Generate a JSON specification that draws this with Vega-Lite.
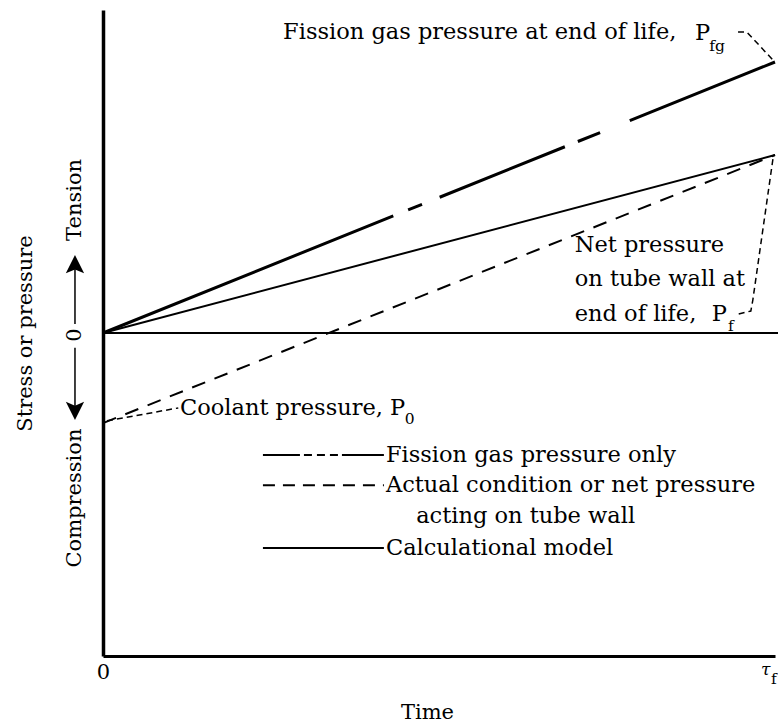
{
  "$schema": "https://vega.github.io/schema/vega-lite/v6.json",
  "width": 672,
  "height": 646,
  "autosize": {"type": "none"},
  "padding": {"left": 103, "top": 10, "right": 3, "bottom": 66},
  "background": "white",
  "config": {
    "font": "DejaVu Serif",
    "view": {"stroke": null},
    "text": {"font": "DejaVu Serif", "fontSize": 21, "color": "black"}
  },
  "datasets": {
    "curves": [
      {"s": "fission", "t": 0, "v": 0}, {"s": "fission", "t": 1, "v": 0.839},
      {"s": "calc", "t": 0, "v": 0}, {"s": "calc", "t": 1, "v": 0.551},
      {"s": "actual", "t": 0, "v": -0.279}, {"s": "actual", "t": 1, "v": 0.551}
    ],
    "zero": [{"t": 0, "t2": 1.005, "v": 0}],
    "leaders": [
      {"k": "Pfg", "o": 1, "t": 0.945, "v": 0.932},
      {"k": "Pfg", "o": 2, "t": 0.958, "v": 0.932},
      {"k": "Pfg", "o": 3, "t": 0.997, "v": 0.845},
      {"k": "Pf", "o": 1, "t": 0.946, "v": 0.059},
      {"k": "Pf", "o": 2, "t": 0.964, "v": 0.068},
      {"k": "Pf", "o": 3, "t": 0.967, "v": 0.102},
      {"k": "Pf", "o": 4, "t": 0.997, "v": 0.54},
      {"k": "P0", "o": 1, "t": 0.006, "v": -0.272},
      {"k": "P0", "o": 2, "t": 0.112, "v": -0.232}
    ],
    "keys": [
      {"k": "fission", "t": 0.238, "t2": 0.418, "v": -0.378},
      {"k": "actual", "t": 0.238, "t2": 0.418, "v": -0.471},
      {"k": "calc", "t": 0.238, "t2": 0.418, "v": -0.666}
    ],
    "labels": [
      {"txt": "Fission gas pressure at end of life,", "t": 0.268, "v": 0.932},
      {"txt": "P", "t": 0.881, "v": 0.929},
      {"txt": "Net pressure", "t": 0.702, "v": 0.272},
      {"txt": "on tube wall at", "t": 0.702, "v": 0.167},
      {"txt": "end of life,", "t": 0.702, "v": 0.059},
      {"txt": "P", "t": 0.906, "v": 0.059},
      {"txt": "Coolant pressure,", "t": 0.1146, "v": -0.232},
      {"txt": "P", "t": 0.427, "v": -0.232},
      {"txt": "Fission gas pressure only", "t": 0.421, "v": -0.378},
      {"txt": "Actual condition or net pressure", "t": 0.421, "v": -0.471},
      {"txt": "acting on tube wall", "t": 0.466, "v": -0.567},
      {"txt": "Calculational model", "t": 0.421, "v": -0.666}
    ],
    "subs": [
      {"txt": "fg", "t": 0.902, "v": 0.889},
      {"txt": "f", "t": 0.930, "v": 0.022},
      {"txt": "0", "t": 0.449, "v": -0.266},
      {"txt": "f", "t": 0.994, "v": -1.07}
    ],
    "side": [
      {"txt": "Tension", "t": -0.0417, "v": 0.412},
      {"txt": "0", "t": -0.0417, "v": -0.006},
      {"txt": "Compression", "t": -0.0417, "v": -0.511}
    ],
    "shafts": [
      {"t": -0.0417, "v": 0.028, "v2": 0.201},
      {"t": -0.0417, "v": -0.046, "v2": -0.229}
    ],
    "heads": [
      {"dir": "up", "t": -0.0417, "v": 0.201},
      {"dir": "down", "t": -0.0417, "v": -0.229}
    ]
  },
  "layer": [
    {
      "data": {"name": "zero"},
      "mark": {"type": "rule", "color": "black", "strokeWidth": 2},
      "encoding": {
        "x": {
          "field": "t", "type": "quantitative",
          "scale": {"domain": [0, 1], "nice": false, "zero": false},
          "axis": {
            "title": "Time", "values": [0, 1],
            "labelExpr": "datum.value == 0 ? '0' : 'τ'",
            "labelFont": "DejaVu Serif",
            "labelFontSize": {"condition": {"test": "datum.value == 1", "value": 17}, "value": 21},
            "labelFontStyle": {"condition": {"test": "datum.value == 1", "value": "italic"}, "value": "normal"},
            "labelAlign": {"condition": {"test": "datum.value == 1", "value": "right"}, "value": "center"},
            "labelOffset": {"condition": {"test": "datum.value == 1", "value": -5}, "value": 0},
            "labelColor": "black", "labelPadding": 5,
            "ticks": false, "grid": false,
            "domainColor": "black", "domainWidth": 3,
            "titleFont": "DejaVu Serif", "titleFontSize": 21, "titleFontWeight": "normal",
            "titleColor": "black", "titleX": 324, "titleY": 62, "titleBaseline": "alphabetic",
            "labelFlush": false
          }
        },
        "x2": {"field": "t2"},
        "y": {
          "field": "v", "type": "quantitative",
          "scale": {"domain": [-1, 1], "nice": false, "zero": false},
          "axis": {
            "title": "Stress or pressure", "labels": false, "ticks": false, "grid": false,
            "domainColor": "black", "domainWidth": 3.5,
            "titleFont": "DejaVu Serif", "titleFontSize": 21, "titleFontWeight": "normal",
            "titleColor": "black", "titlePadding": 68
          }
        }
      }
    },
    {
      "data": {"name": "curves"},
      "transform": [{"filter": "datum.s == 'fission'"}],
      "mark": {"type": "line", "color": "black", "strokeWidth": 3, "strokeDash": [313, 16, 15, 19, 135, 14, 24, 32, 200, 10]},
      "encoding": {"x": {"field": "t", "type": "quantitative"}, "y": {"field": "v", "type": "quantitative"}}
    },
    {
      "data": {"name": "curves"},
      "transform": [{"filter": "datum.s == 'calc'"}],
      "mark": {"type": "line", "color": "black", "strokeWidth": 2},
      "encoding": {"x": {"field": "t", "type": "quantitative"}, "y": {"field": "v", "type": "quantitative"}}
    },
    {
      "data": {"name": "curves"},
      "transform": [{"filter": "datum.s == 'actual'"}],
      "mark": {"type": "line", "color": "black", "strokeWidth": 2, "strokeDash": [14, 10]},
      "encoding": {"x": {"field": "t", "type": "quantitative"}, "y": {"field": "v", "type": "quantitative"}}
    },
    {
      "data": {"name": "leaders"},
      "mark": {"type": "line", "color": "black", "strokeWidth": 1.5, "strokeDash": [6, 4]},
      "encoding": {
        "x": {"field": "t", "type": "quantitative"},
        "y": {"field": "v", "type": "quantitative"},
        "detail": {"field": "k"},
        "order": {"field": "o"}
      }
    },
    {
      "data": {"name": "keys"},
      "transform": [{"filter": "datum.k == 'fission'"}],
      "mark": {"type": "rule", "color": "black", "strokeWidth": 2, "strokeDash": [37, 4, 8, 5, 8, 5, 8, 4, 60, 1]},
      "encoding": {"x": {"field": "t", "type": "quantitative"}, "x2": {"field": "t2"}, "y": {"field": "v", "type": "quantitative"}}
    },
    {
      "data": {"name": "keys"},
      "transform": [{"filter": "datum.k == 'actual'"}],
      "mark": {"type": "rule", "color": "black", "strokeWidth": 2, "strokeDash": [12, 8]},
      "encoding": {"x": {"field": "t", "type": "quantitative"}, "x2": {"field": "t2"}, "y": {"field": "v", "type": "quantitative"}}
    },
    {
      "data": {"name": "keys"},
      "transform": [{"filter": "datum.k == 'calc'"}],
      "mark": {"type": "rule", "color": "black", "strokeWidth": 2},
      "encoding": {"x": {"field": "t", "type": "quantitative"}, "x2": {"field": "t2"}, "y": {"field": "v", "type": "quantitative"}}
    },
    {
      "data": {"name": "labels"},
      "mark": {"type": "text", "align": "left", "baseline": "middle", "fontSize": 22.5, "font": "DejaVu Serif", "color": "black"},
      "encoding": {"x": {"field": "t", "type": "quantitative"}, "y": {"field": "v", "type": "quantitative"}, "text": {"field": "txt"}}
    },
    {
      "data": {"name": "subs"},
      "mark": {"type": "text", "align": "left", "baseline": "middle", "fontSize": 15.5, "font": "DejaVu Serif", "color": "black"},
      "encoding": {"x": {"field": "t", "type": "quantitative"}, "y": {"field": "v", "type": "quantitative"}, "text": {"field": "txt"}}
    },
    {
      "data": {"name": "side"},
      "mark": {"type": "text", "align": "center", "baseline": "middle", "angle": 270, "fontSize": 21, "font": "DejaVu Serif", "color": "black"},
      "encoding": {"x": {"field": "t", "type": "quantitative"}, "y": {"field": "v", "type": "quantitative"}, "text": {"field": "txt"}}
    },
    {
      "data": {"name": "shafts"},
      "mark": {"type": "rule", "color": "black", "strokeWidth": 1.5},
      "encoding": {"x": {"field": "t", "type": "quantitative"}, "y": {"field": "v", "type": "quantitative"}, "y2": {"field": "v2"}}
    },
    {
      "data": {"name": "heads"},
      "mark": {"type": "point", "filled": true, "color": "black", "size": 680, "opacity": 1},
      "encoding": {
        "x": {"field": "t", "type": "quantitative"},
        "y": {"field": "v", "type": "quantitative"},
        "shape": {
          "field": "dir", "type": "nominal", "legend": null,
          "scale": {"domain": ["up", "down"], "range": ["M0,-1L0.7,0.4L0,0.1L-0.7,0.4Z", "M0,1L0.7,-0.4L0,-0.1L-0.7,-0.4Z"]}
        }
      }
    }
  ]
}
